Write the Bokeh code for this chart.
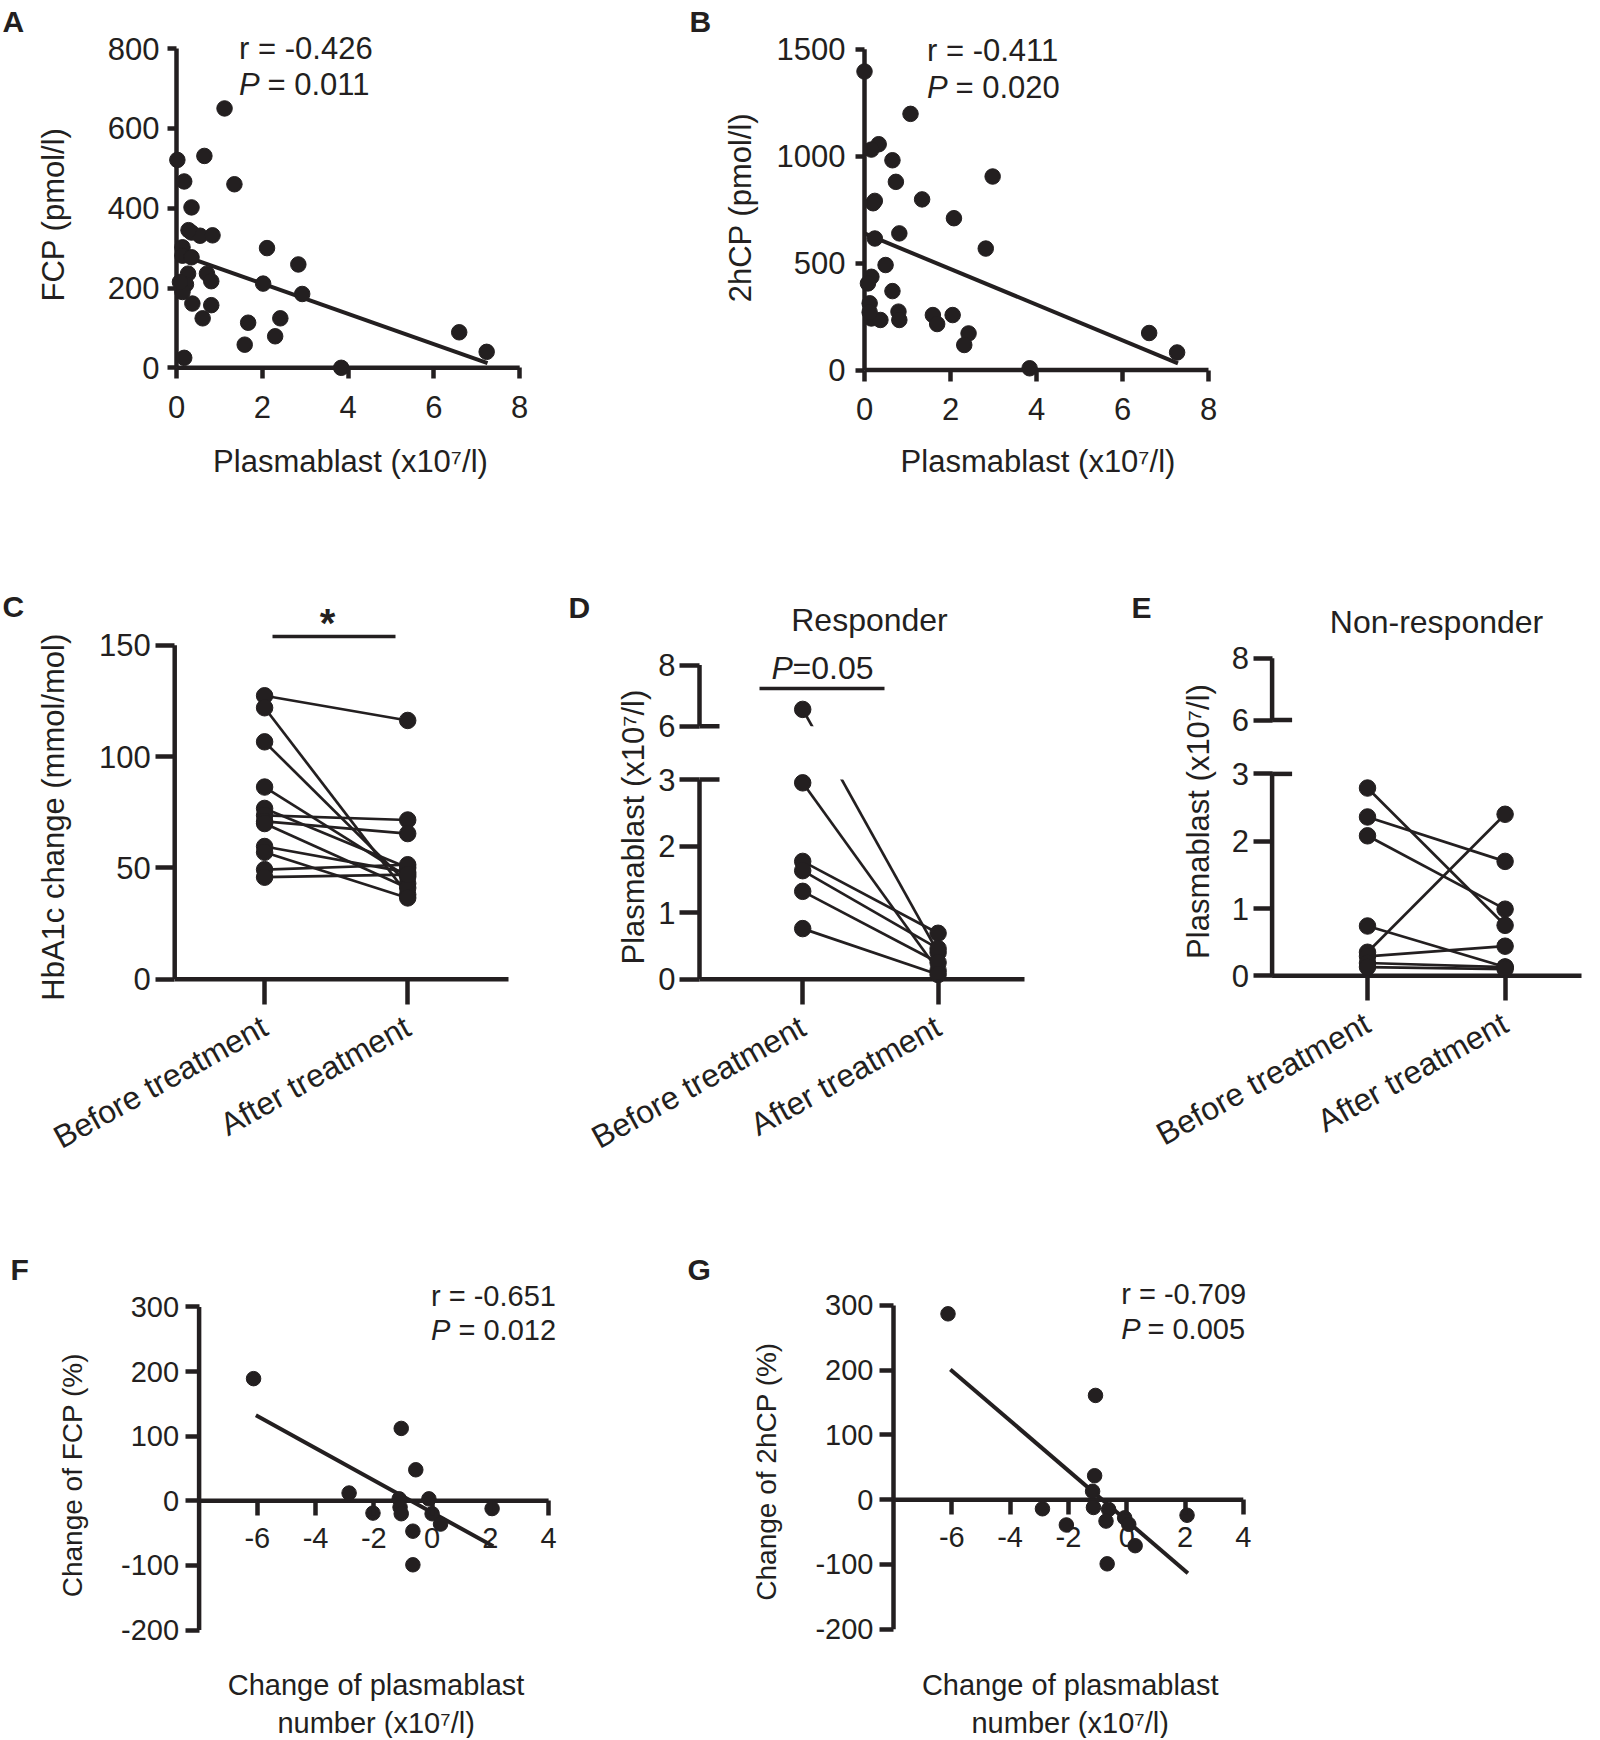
import math
from bokeh.plotting import figure
from bokeh.models import Range1d, FixedTicker, Label
from bokeh.layouts import row, column
from bokeh.embed import file_html
from bokeh.resources import INLINE

FONT = "Liberation Sans"
INK = "#231f20"

# ---------------- data ----------------
# A: plasmablast (x10^7/l) vs fasting C-peptide (pmol/l)
a_plasmablast = [0.02, 0.65, 0.18, 1.35, 1.12, 0.35, 0.35, 0.55, 0.84, 2.11, 0.14, 0.14,
                 0.35, 2.84, 0.27, 0.71, 0.81, 0.22, 0.14, 2.02, 2.93, 0.37, 0.81, 0.61,
                 1.67, 2.42, 1.59, 2.30, 0.18, 3.84, 6.59, 7.23, 0.28, 0.08]
a_fcp = [521, 531, 467, 460, 650, 402, 339, 331, 332, 300, 302, 281,
         277, 259, 236, 236, 217, 209, 190, 211, 185, 161, 157, 124,
         113, 124, 58, 79, 25, 0, 89, 40, 345, 215]
a_fit_intercept = 287.0
a_fit_slope = -38.0
a_fit_x = [0.0, 7.25]
a_r_text = "r = -0.426"
a_p_text = "= 0.011"

# B: plasmablast vs 2h C-peptide (pmol/l)
b_plasmablast = [0.00, 1.07, 0.33, 0.16, 0.65, 0.73, 2.98, 0.24, 1.34, 2.08, 0.24, 0.81,
                 2.82, 0.49, 0.16, 0.08, 0.65, 0.12, 0.16, 0.37, 0.79, 0.81, 1.59, 1.69,
                 2.05, 2.42, 2.32, 3.84, 6.62, 7.27, 0.12, 0.20]
b_2hcp = [1396, 1198, 1056, 1031, 981, 880, 905, 791, 798, 710, 615, 639,
          568, 491, 436, 405, 369, 312, 241, 234, 273, 234, 257, 215,
          257, 171, 117, 8, 173, 82, 270, 780]
b_fit_intercept = 639.0
b_fit_slope = -83.4
b_fit_x = [0.0, 7.29]
b_r_text = "r = -0.411"
b_p_text = "= 0.020"

groups = ["Before treatment", "After treatment"]

# C: HbA1c (mmol/mol), paired before / after
c_before = [127.3, 121.9, 106.6, 86.3, 76.7, 73.6, 70.9, 69.9, 59.6, 57.0, 49.2, 45.8]
c_after = [116.2, 38.0, 43.0, 46.0, 50.0, 71.5, 65.4, 41.0, 48.0, 36.5, 51.4, 47.0]

# D: plasmablast, responders, paired
d_before = [6.55, 2.95, 1.77, 1.63, 1.32, 0.76]
d_after = [0.40, 0.13, 0.69, 0.46, 0.25, 0.07]

# E: plasmablast, non-responders, paired
e_before = [2.79, 2.36, 2.08, 0.74, 0.35, 0.29, 0.19, 0.13]
e_after = [0.75, 1.70, 0.99, 0.13, 2.40, 0.44, 0.13, 0.10]

# F: change of plasmablast vs change of FCP (%)
f_dplasmablast = [-6.13, -2.85, -2.03, -1.06, -1.13, -1.10, -1.06, -0.56, -0.66, -0.66,
                  -0.11, 0.00, 0.29, 2.06]
f_dfcp = [189, 12, -19, 112, 3, -10, -20, 48, -47, -99, 3, -20, -36, -12]
f_fit_intercept = -18.1
f_fit_slope = -24.9
f_fit_x = [-6.05, 2.1]
f_r_text = "r = -0.651"
f_p_text = "= 0.012"

# G: change of plasmablast vs change of 2hCP (%)
g_dplasmablast = [-6.13, -2.89, -2.07, -1.07, -1.10, -1.17, -1.14, -0.62, -0.71, -0.67,
                  -0.07, 0.07, 0.29, 2.07]
g_d2hcp = [287, -14, -39, 161, 37, 13, -12, -15, -33, -99, -28, -38, -71, -24]
g_fit_intercept = -32.4
g_fit_slope = -38.6
g_fit_x = [-6.05, 2.1]
g_r_text = "r = -0.709"
g_p_text = "= 0.005"

change_ticks_x = [-6, -4, -2, 0, 2, 4]
change_ticks_y = [-200, -100, 0, 100, 200, 300]

# broken axis (D, E): 0-3 and 6-8
T6, T8 = 3.80, 4.72


def brk(v):
    return v if v <= 3 else T6 + (v - 6.0) * (T8 - T6) / 2.0


# ---------------- helpers ----------------
def build(fx, fy, fw, fh, xmap, ymap):
    # frame covers the whole figure; axes use fixed locations inside it
    X0, x0, X1, x1 = xmap
    Y0, y0, Y1, y1 = ymap

    def dx(X):
        return x0 + (X - X0) * (x1 - x0) / (X1 - X0)

    def dy(Y):
        return y0 + (Y - Y0) * (y1 - y0) / (Y1 - Y0)

    p = figure(width=fw, height=fh,
               x_range=Range1d(dx(fx), dx(fx + fw)), y_range=Range1d(dy(fy + fh), dy(fy)),
               output_backend="svg", toolbar_location=None,
               min_border_left=0, min_border_right=0, min_border_top=0, min_border_bottom=0)
    p.outline_line_color = None
    p.xgrid.visible = False
    p.ygrid.visible = False
    p.background_fill_color = "white"
    p.border_fill_color = "white"
    return p, dx, dy


def plain(ticks):
    return {t: str(t) for t in ticks}


def set_axes(p, xticks, yticks, x_at, y_at, fs, x_out, y_out, x_so, y_so,
             xover=None, yover=None, xorient=None, xfs=None):
    xa = p.xaxis[0]
    ya = p.yaxis[0]
    xa.fixed_location = x_at
    ya.fixed_location = y_at
    for ax, ticks, out, so, ov, size in ((xa, xticks, x_out, x_so, xover, xfs or fs),
                                         (ya, yticks, y_out, y_so, yover, fs)):
        ax.ticker = FixedTicker(ticks=ticks)
        ax.axis_line_color = None
        ax.major_tick_line_color = INK
        ax.major_tick_line_width = 4.5
        ax.major_tick_out = out
        ax.major_tick_in = 0
        ax.minor_tick_line_color = None
        ax.major_label_text_font = FONT
        ax.major_label_text_font_size = f"{size}px"
        ax.major_label_text_color = INK
        ax.major_label_standoff = so
        ax.major_label_overrides = ov if ov else plain(ticks)
    if xorient is not None:
        xa.major_label_orientation = xorient


def txt(p, dx, dy, X, Y, s, size, align="left", baseline="middle", angle=0.0, style="normal"):
    p.add_layout(Label(x=dx(X), y=dy(Y), text=s, text_font=FONT, text_font_size=f"{size}px",
                       text_color=INK, text_align=align, text_baseline=baseline,
                       angle=angle, text_font_style=style))


def seg(p, x0, y0, x1, y1, w=4.5):
    p.segment(x0=x0, y0=y0, x1=x1, y1=y1, line_width=w, line_color=INK)


VERT = math.pi / 2
ROT = 29 * math.pi / 180
GROUP_OVR = {1: groups[0], 2: groups[1]}
BRK_OVR = {0: "0", 1: "1", 2: "2", 3: "3", T6: "6", T8: "8"}
XT = "Plasmablast (x10\u2077/l)"
FS = 31      # text size, panels A-E
FS2 = 29     # text size, panels F-G
FSL = 30     # panel letters
FSR = 32     # rotated group labels

# ---------------- A ----------------
pA, ax_, ay_ = build(0, 0, 680, 560, (176, 0, 519.2, 8), (367.3, 0, 48.1, 800))
set_axes(pA, [0, 2, 4, 6, 8], [0, 200, 400, 600, 800], 0, 0, FS, 11, 9, 17, 8)
seg(pA, [0, 0], [0, 0], [0, 8], [800, 0])
pA.line(a_fit_x, [a_fit_intercept + a_fit_slope * x for x in a_fit_x], line_width=4, line_color=INK)
pA.scatter(a_plasmablast, a_fcp, size=15.5, color=INK)
txt(pA, ax_, ay_, 2, 21, "A", FSL, style="bold")
txt(pA, ax_, ay_, 238.6, 47.7, a_r_text, FS)
txt(pA, ax_, ay_, 238.6, 84, "P", FS, style="italic")
txt(pA, ax_, ay_, 267, 84, a_p_text, FS)
txt(pA, ax_, ay_, 53, 214, "FCP (pmol/l)", FS, align="center", angle=VERT)
txt(pA, ax_, ay_, 350, 460.5, XT, FS, align="center")

# ---------------- B ----------------
pB, bx_, by_ = build(680, 0, 918, 560, (864, 0, 1208, 8), (369.5, 0, 48.8, 1500))
set_axes(pB, [0, 2, 4, 6, 8], [0, 500, 1000, 1500], 0, 0, FS, 11, 9, 17, 10)
seg(pB, [0, 0], [0, 0], [0, 8], [1500, 0])
pB.line(b_fit_x, [b_fit_intercept + b_fit_slope * x for x in b_fit_x], line_width=4, line_color=INK)
pB.scatter(b_plasmablast, b_2hcp, size=15.5, color=INK)
txt(pB, bx_, by_, 689, 21, "B", FSL, style="bold")
txt(pB, bx_, by_, 926.5, 50, b_r_text, FS)
txt(pB, bx_, by_, 926.5, 86.5, "P", FS, style="italic")
txt(pB, bx_, by_, 955, 86.5, b_p_text, FS)
txt(pB, bx_, by_, 740, 207, "2hCP (pmol/l)", FS, align="center", angle=VERT)
txt(pB, bx_, by_, 1037.5, 460.5, XT, FS, align="center")

# ---------------- C ----------------
pC, cx_, cy_ = build(0, 560, 560, 680, (264.1, 1, 407.2, 2), (978.7, 0, 644.7, 150))
cyl = cx_(174.2)
set_axes(pC, [1, 2], [0, 50, 100, 150], 0, cyl, FS, 25, 19, 20, 5,
         xover=GROUP_OVR, xorient=ROT, xfs=FSR)
seg(pC, [cyl, cyl], [0, 0], [cyl, cx_(508)], [150, 0])
n = len(c_before)
seg(pC, [1] * n, c_before, [2] * n, c_after, 2.7)
pC.scatter([1] * n, c_before, size=16.5, color=INK)
pC.scatter([2] * n, c_after, size=16.5, color=INK)
seg(pC, [cx_(272)], [cy_(636)], [cx_(395)], [cy_(636)], 3.5)
txt(pC, cx_, cy_, 327, 622, "*", 40, align="center", style="bold")
txt(pC, cx_, cy_, 2, 606, "C", FSL, style="bold")
txt(pC, cx_, cy_, 53, 816.7, "HbA1c change (mmol/mol)", FS, align="center", angle=VERT)


# ---------------- D / E (broken axis) ----------------
def paired_broken(p, dx, dy, before, after, ax_X, right_X):
    yl = dx(ax_X)
    n = len(before)
    tb = [brk(v) for v in before]
    ta = [brk(v) for v in after]
    seg(p, [1] * n, tb, [2] * n, ta, 2.7)
    # hide the axis break band
    p.quad(left=[yl + 0.05], right=[dx(right_X) + 1], bottom=[3], top=[T6],
           fill_color="white", line_color=None)
    seg(p, [yl, yl, yl], [0, T6, 0], [yl, yl, dx(right_X)], [3, T8, 0])
    seg(p, [yl, yl], [3, T6], [dx(ax_X + 20), dx(ax_X + 20)], [3, T6])
    p.scatter([1] * n, tb, size=16.5, color=INK)
    p.scatter([2] * n, ta, size=16.5, color=INK)
    return yl


pD, dx_, dy_ = build(560, 560, 550, 680, (802.2, 1, 937.6, 2), (978.7, 0, 779, 3))
set_axes(pD, [1, 2], [0, 1, 2, 3, T6, T8], 0, dx_(699), FS, 25, 20, 20, 4,
         xover=GROUP_OVR, yover=BRK_OVR, xorient=ROT, xfs=FSR)
paired_broken(pD, dx_, dy_, d_before, d_after, 699, 1024)
seg(pD, [dx_(759)], [dy_(688)], [dx_(884)], [dy_(688)], 3.5)
txt(pD, dx_, dy_, 771, 667, "P", 32, style="italic")
txt(pD, dx_, dy_, 792, 667, "=0.05", 32)
txt(pD, dx_, dy_, 869, 619, "Responder", 32, align="center")
txt(pD, dx_, dy_, 568, 607, "D", FSL, style="bold")
txt(pD, dx_, dy_, 632.5, 826.6, XT, FS, align="center", angle=VERT)

pE, ex_, ey_ = build(1110, 560, 488, 680, (1367, 1, 1504.6, 2), (975.3, 0, 773.4, 3))
set_axes(pE, [1, 2], [0, 1, 2, 3, T6, T8], 0, ex_(1271.6), FS, 25, 19, 20, 4,
         xover=GROUP_OVR, yover=BRK_OVR, xorient=ROT, xfs=FSR)
paired_broken(pE, ex_, ey_, e_before, e_after, 1271.6, 1581)
txt(pE, ex_, ey_, 1436, 621, "Non-responder", 32, align="center")
txt(pE, ex_, ey_, 1131, 607, "E", FSL, style="bold")
txt(pE, ex_, ey_, 1198, 821, XT, FS, align="center", angle=VERT)

# ---------------- F ----------------
pF, fx_, fy_ = build(0, 1240, 680, 498, (431.6, 0, 548.1, 4), (1500.3, 0, 1306.4, 300))
set_axes(pF, change_ticks_x, change_ticks_y, 0, -8, FS2, 15, 14, 12, 6)
seg(pF, [-8, -8], [-200, 0], [-8, 4], [300, 0])
pF.line(f_fit_x, [f_fit_intercept + f_fit_slope * x for x in f_fit_x], line_width=4, line_color=INK)
pF.scatter(f_dplasmablast, f_dfcp, size=14.5, color=INK)
txt(pF, fx_, fy_, 430.5, 1295, f_r_text, FS2)
txt(pF, fx_, fy_, 430.5, 1329.3, "P", FS2, style="italic")
txt(pF, fx_, fy_, 458, 1329.3, f_p_text, FS2)
txt(pF, fx_, fy_, 10, 1269, "F", FSL, style="bold")
txt(pF, fx_, fy_, 72, 1474.6, "Change of FCP (%)", 28, align="center", angle=VERT)
txt(pF, fx_, fy_, 375.6, 1684, "Change of plasmablast", FS2, align="center")
txt(pF, fx_, fy_, 375.6, 1722, "number (x10\u2077/l)", FS2, align="center")

# ---------------- G ----------------
pG, gx_, gy_ = build(680, 1240, 918, 498, (1126.2, 0, 1242.8, 4), (1499.2, 0, 1304.9, 300))
set_axes(pG, change_ticks_x, change_ticks_y, 0, -8, FS2, 15, 14, 12, 6)
seg(pG, [-8, -8], [-200, 0], [-8, 4], [300, 0])
pG.line(g_fit_x, [g_fit_intercept + g_fit_slope * x for x in g_fit_x], line_width=4, line_color=INK)
pG.scatter(g_dplasmablast, g_d2hcp, size=14.5, color=INK)
txt(pG, gx_, gy_, 1120.7, 1293.8, g_r_text, FS2)
txt(pG, gx_, gy_, 1120.7, 1328, "P", FS2, style="italic")
txt(pG, gx_, gy_, 1147, 1328, g_p_text, FS2)
txt(pG, gx_, gy_, 687, 1269, "G", FSL, style="bold")
txt(pG, gx_, gy_, 765.6, 1471, "Change of 2hCP (%)", 28, align="center", angle=VERT)
txt(pG, gx_, gy_, 1069.7, 1684, "Change of plasmablast", FS2, align="center")
txt(pG, gx_, gy_, 1069.7, 1722, "number (x10\u2077/l)", FS2, align="center")

layout = column(row(pA, pB), row(pC, pD, pE), row(pF, pG))
open("out.html", "w").write(file_html(layout, INLINE))
